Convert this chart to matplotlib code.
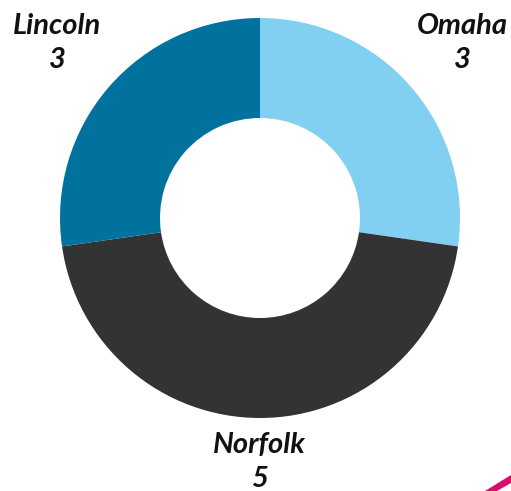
import matplotlib
matplotlib.use("Agg")
import matplotlib.pyplot as plt
from matplotlib.patches import Polygon

cities = ["Omaha", "Norfolk", "Lincoln"]
counts = [3, 5, 3]
colors = ["#81CFF1", "#333333", "#01729D"]

W, H = 511, 491
fig = plt.figure(figsize=(W / 100, H / 100), dpi=100)
ax = fig.add_axes([0, 0, 1, 1])

cx, cy = 260, H - 218
ax.pie(counts, colors=colors, startangle=90, counterclock=False,
       center=(cx, cy), radius=200, frame=True,
       wedgeprops=dict(width=100, linewidth=0))
ax.set_xlim(0, W)
ax.set_ylim(0, H)
ax.set_aspect("equal")
ax.axis("off")

font = dict(family="Lato", weight="bold", style="italic", fontsize=21,
            color="#111111", ha="center", va="center", linespacing=1.38)
label_pos = {"Omaha": (462, H - 43), "Norfolk": (259, H - 462), "Lincoln": (57, H - 43)}
for city, n in zip(cities, counts):
    x, y = label_pos[city]
    ax.text(x, y, f"{city}\n{n}", **font)

# pink decoration in the lower right corner
ax.add_patch(Polygon([[485, H - 491], [511, H - 475], [511, H - 483], [497, H - 491]],
                     closed=True, color="#D4106A", lw=0, clip_on=True))

fig.savefig("out.png", dpi=100)
